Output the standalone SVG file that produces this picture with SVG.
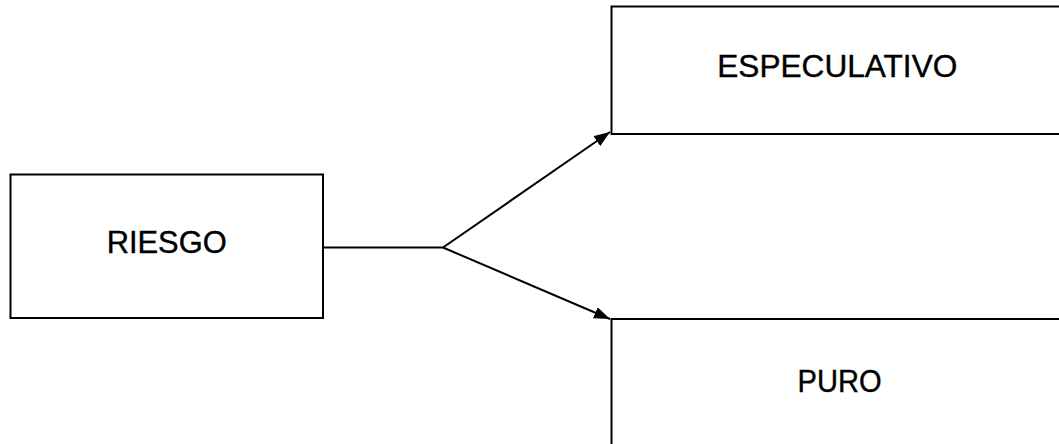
<svg xmlns="http://www.w3.org/2000/svg" width="1059" height="444" viewBox="0 0 1059 444">
<style>
.box{fill:#fff;stroke:#000;stroke-width:2}
.lbl{font-family:"Liberation Sans",Arial,sans-serif;font-size:31px;fill:#000;stroke:#000;stroke-width:0.4;text-anchor:middle}
.conn{fill:none;stroke:#000;stroke-width:2}
</style>
<defs>
<marker id="arr" markerUnits="userSpaceOnUse" markerWidth="17" markerHeight="13" refX="16" refY="6" orient="auto">
<path d="M0,0 L16,6 L0,12 z" fill="#000"/>
</marker>
</defs>
<rect width="1059" height="444" fill="#fff"/>
<g id="riesgo">
<rect class="box" x="10.5" y="174.5" width="312.5" height="143.5"/>
<text class="lbl" x="166.7" y="252.5" textLength="120" lengthAdjust="spacingAndGlyphs">RIESGO</text>
</g>
<g id="especulativo">
<rect class="box" x="611.5" y="6.5" width="520" height="127.5"/>
<text class="lbl" x="837.3" y="77" textLength="240" lengthAdjust="spacingAndGlyphs">ESPECULATIVO</text>
</g>
<g id="puro">
<rect class="box" x="611.5" y="319" width="520" height="200"/>
<text class="lbl" x="839.5" y="391.5" textLength="84" lengthAdjust="spacingAndGlyphs">PURO</text>
</g>
<g id="connectors">
<path class="conn" d="M323,247.5 L443,247.5"/>
<path class="conn" d="M443,247.5 L610,132"/>
<path class="conn" d="M443,247.5 L610,319"/>
<path d="M443,247.5 L610,132" fill="none" stroke="none" marker-end="url(#arr)"/>
<path d="M443,247.5 L610,319" fill="none" stroke="none" marker-end="url(#arr)"/>
</g>
</svg>
